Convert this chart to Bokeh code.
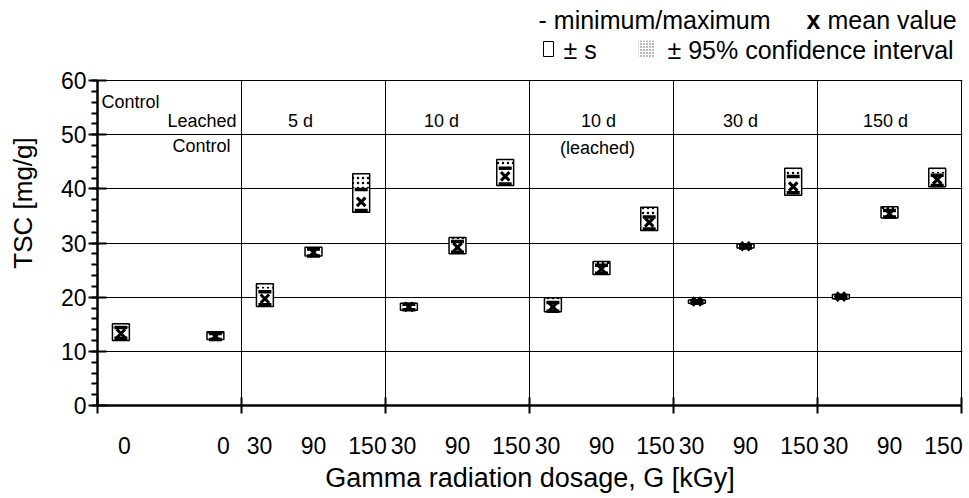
from bokeh.plotting import figure
from bokeh.models import FixedTicker, Label, Range1d
from bokeh.embed import file_html
from bokeh.resources import INLINE

FONT = "Liberation Sans"

# Treatment groups (one block of the x axis each)
group_titles = ["5 d", "10 d", "10 d", "30 d", "150 d"]
# Dose tick labels, left to right
dose_labels = ["0", "0", "30", "90", "150", "30", "90", "150", "30", "90", "150",
               "30", "90", "150", "30", "90", "150"]
# Group index and slot of each sample
group_idx = [0, 0, 1, 1, 1, 2, 2, 2, 3, 3, 3, 4, 4, 4, 5, 5, 5]
slot_idx = [0, 2, 0, 1, 2, 0, 1, 2, 0, 1, 2, 0, 1, 2, 0, 1, 2]

# TSC statistics [mg/g]
mean_val = [13.3, 12.8, 19.7, 28.3, 37.6, 18.2, 29.2, 42.3, 18.2, 25.2, 33.8,
            19.2, 29.4, 40.4, 20.1, 35.4, 41.7]
s_high = [15.1, 13.6, 22.5, 29.2, 42.8, 18.9, 31.0, 45.4, 19.9, 26.6, 36.6,
          19.5, 29.8, 43.8, 20.5, 36.7, 43.8]
s_low = [12.0, 12.2, 18.3, 27.6, 35.7, 17.6, 28.0, 40.6, 17.3, 24.2, 32.3,
         18.9, 29.1, 38.8, 19.7, 34.6, 40.4]
ci_high = [15.1, 13.6, 22.5, 29.2, 42.8, 18.9, 31.0, 45.4, 19.9, 26.6, 36.6,
           19.5, 29.8, 43.8, 20.5, 36.7, 43.8]
ci_low = [14.4, 13.3, 21.6, 29.0, 40.1, 18.7, 30.4, 44.3, 19.4, 26.1, 34.9,
          19.4, 29.7, 42.5, 20.4, 36.2, 42.9]
v_max = [14.4, 13.3, 21.0, 28.9, 39.9, 18.7, 30.3, 43.8, 19.0, 25.9, 34.8,
         19.4, 29.7, 42.3, 20.3, 36.0, 42.5]
v_min = [12.4, 12.2, 18.6, 27.6, 36.0, 17.7, 28.3, 40.9, 17.4, 24.4, 32.6,
         18.9, 29.1, 39.3, 19.8, 34.8, 40.6]

# Layout of the x axis: 8 units per group
GW = 8.0
N_GROUPS = 6
mark_slot = {0: 1.3, 1: 4.0, 2: 6.65}
label_slot = {0: 1.0, 1: 4.0, 2: 7.0}
first_label_slot = {0: 1.5, 2: 7.0}
first_mark_slot = {0: 1.3, 2: 6.55}

xs, xl = [], []
for g, s in zip(group_idx, slot_idx):
    if g == 0:
        xs.append(g * GW + first_mark_slot[s])
        xl.append(g * GW + first_label_slot[s])
    else:
        xs.append(g * GW + mark_slot[s])
        xl.append(g * GW + label_slot[s])

# pixel geometry of the plotting area
PX_X = 18.0                 # px per x unit
PX_Y = 325.0 / 60.0         # px per y unit
FRAME_W = 865
FRAME_H = 405
X_MAX = N_GROUPS * GW
Y_TOP = 60

p = figure(width=969, height=498, frame_width=FRAME_W, frame_height=FRAME_H,
           x_range=Range1d(0, FRAME_W / PX_X), y_range=Range1d(0, FRAME_H / PX_Y),
           output_backend="svg", toolbar_location=None,
           min_border_left=97, min_border_right=969 - 97 - FRAME_W,
           min_border_top=0, min_border_bottom=93)
p.background_fill_color = "white"
p.border_fill_color = "white"
p.outline_line_color = None

# horizontal grid incl. top border
p.ygrid.ticker = FixedTicker(ticks=[10, 20, 30, 40, 50, 60])
p.ygrid.grid_line_color = "black"
p.ygrid.grid_line_width = 1
p.xgrid.grid_line_color = None

# group separators and right border
sep = [GW * k for k in range(1, N_GROUPS + 1)]
p.segment(x0=sep, y0=[0] * len(sep), x1=sep, y1=[Y_TOP] * len(sep),
          line_color="black", line_width=1)

# x axis: labels under each dose, ticks at group boundaries
xa = p.xaxis[0]
xa.ticker = FixedTicker(ticks=xl, minor_ticks=[GW * k for k in range(N_GROUPS + 1)])
xa.major_label_overrides = {float(x): t for x, t in zip(xl, dose_labels)}
xa.bounds = (0, X_MAX)
xa.major_tick_in = 0
xa.major_tick_out = 0
xa.minor_tick_in = 8
xa.minor_tick_out = 8
xa.minor_tick_line_width = 2
xa.minor_tick_line_color = "black"
xa.axis_line_width = 2.5
xa.axis_line_color = "black"
xa.major_label_standoff = 23
xa.major_label_text_font = FONT
xa.major_label_text_font_size = "23px"
xa.major_label_text_color = "black"
xa.axis_label = "Gamma radiation dosage, G [kGy]"
xa.axis_label_text_font = FONT
xa.axis_label_text_font_size = "27px"
xa.axis_label_text_font_style = "normal"
xa.axis_label_text_color = "black"
xa.axis_label_standoff = 6

ya = p.yaxis[0]
ya.ticker = FixedTicker(ticks=[0, 10, 20, 30, 40, 50, 60],
                        minor_ticks=list(range(0, 61, 2)))
ya.bounds = (0, Y_TOP)
ya.major_tick_in = 9
ya.major_tick_out = 9
ya.major_tick_line_width = 2
ya.minor_tick_in = 0
ya.minor_tick_out = 6
ya.minor_tick_line_width = 2
ya.axis_line_width = 2.5
ya.axis_line_color = "black"
ya.major_label_standoff = 2
ya.major_label_text_font = FONT
ya.major_label_text_font_size = "23px"
ya.major_label_text_color = "black"
ya.axis_label = "TSC [mg/g]"
ya.axis_label_text_font = FONT
ya.axis_label_text_font_size = "26px"
ya.axis_label_text_font_style = "normal"
ya.axis_label_text_color = "black"
ya.axis_label_standoff = 20

# boxes: +/- s
half = 0.47
left = [x - half for x in xs]
right = [x + half for x in xs]
p.quad(left=left, right=right, bottom=s_low, top=s_high,
       fill_color="white", line_color="black", line_width=1.5)
# dotted band: +/- 95% confidence interval
p.quad(left=left, right=right, bottom=ci_low, top=ci_high,
       fill_alpha=0, line_alpha=0, hatch_pattern="dot", hatch_color="black",
       hatch_scale=5, hatch_weight=1.5)
# min / max dashes
p.scatter(xs, v_max, marker="dash", size=13, line_width=3.5, line_color="black")
p.scatter(xs, v_min, marker="dash", size=13, line_width=3.5, line_color="black")
# mean
p.scatter(xs, mean_val, marker="x", size=12, line_width=3, line_color="black")


def lab(x, y, text, size="18px", align="center", style="normal", font=FONT):
    p.add_layout(Label(x=x, y=y, text=text, text_font=font, text_font_size=size,
                       text_align=align, text_baseline="middle",
                       text_font_style=style, text_color="black"))


def xd(px):
    return (px - 97) / PX_X


def yd(py):
    return Y_TOP + (80 - py) / PX_Y


# group titles inside the plot
lab(xd(101), yd(101), "Control", align="left")
lab(xd(236), yd(120), "Leached", align="right")
lab(xd(230), yd(145), "Control", align="right")
group_centers = [xd(300), xd(441), xd(598), xd(740), xd(885)]
for gc, t in zip(group_centers, group_titles):
    lab(gc, yd(120), t)
lab(xd(597), yd(147), "(leached)")

# legend above the plot
LEG = "25px"
lab(xd(770), yd(19), "- minimum/maximum", size=LEG, align="right")
lab(xd(806), yd(19), "x", size=LEG, align="left", style="bold")
lab(xd(827), yd(19), "mean value", size=LEG, align="left")
p.quad(left=[xd(543)], right=[xd(553)], top=[yd(41)], bottom=[yd(56)],
       fill_color="white", line_color="black", line_width=1)
lab(xd(563), yd(49), "\u00b1 s", size=LEG, align="left")
p.quad(left=[xd(638)], right=[xd(654)], top=[yd(40)], bottom=[yd(57)],
       fill_alpha=0, line_alpha=0, hatch_pattern="dot", hatch_color="#555555",
       hatch_scale=3, hatch_weight=1)
lab(xd(667), yd(49), "\u00b1 95% confidence interval", size=LEG, align="left")

open("out.html", "w").write(file_html(p, INLINE))
